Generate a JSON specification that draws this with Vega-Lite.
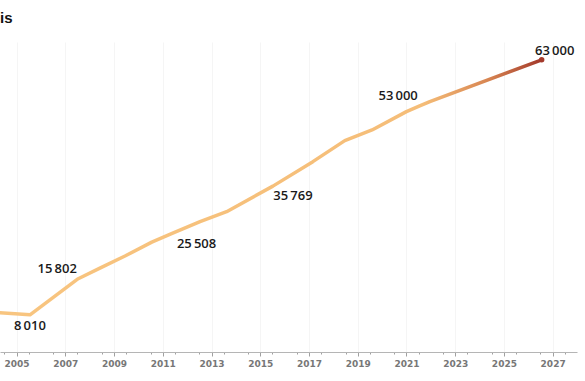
{
  "$schema": "https://vega.github.io/schema/vega-lite/v6.json",
  "width": 577,
  "height": 310,
  "autosize": {"type": "none"},
  "padding": {"left": 0, "top": 42, "right": 8, "bottom": 29},
  "title": {"text": "is", "anchor": "start", "frame": "group", "font": "Liberation Sans", "fontSize": 15, "fontWeight": "bold", "color": "#111111", "baseline": "alphabetic", "offset": 4},
  "config": {
    "view": {"stroke": null},
    "locale": {"number": {"decimal": ".", "thousands": "\u2009", "grouping": [3], "currency": ["", ""]}}
  },
  "data": {"values": [
    {"year": 2004.3, "value": 8480},
    {"year": 2005.55, "value": 8010},
    {"year": 2007.53, "value": 15802},
    {"year": 2008.42, "value": 18100},
    {"year": 2009.45, "value": 20700},
    {"year": 2010.55, "value": 23700},
    {"year": 2011.36, "value": 25508},
    {"year": 2012.53, "value": 28100},
    {"year": 2013.62, "value": 30260},
    {"year": 2015.52, "value": 35769},
    {"year": 2017.16, "value": 41050},
    {"year": 2018.47, "value": 45580},
    {"year": 2019.59, "value": 47890},
    {"year": 2021.0, "value": 51830},
    {"year": 2021.52, "value": 53000},
    {"year": 2021.96, "value": 53990},
    {"year": 2026.55, "value": 63000}
  ]},
  "encoding": {
    "x": {"field": "year", "type": "quantitative",
      "scale": {"domain": [2004.32, 2028], "nice": false, "zero": false},
      "axis": {
        "title": null,
        "values": [2004.5, 2005, 2005.5, 2006.5, 2007, 2007.5, 2008.5, 2009, 2009.5, 2010.5, 2011, 2011.5, 2012.5, 2013, 2013.5, 2014.5, 2015, 2015.5, 2016.5, 2017, 2017.5, 2018.5, 2019, 2019.5, 2020.5, 2021, 2021.5, 2022.5, 2023, 2023.5, 2024.5, 2025, 2025.5, 2026.5, 2027, 2027.5],
        "labelExpr": "datum.value % 1 == 0 ? format(datum.value, 'd') : ''",
        "grid": true,
        "gridColor": "#f5f5f5",
        "gridOpacity": {"condition": {"test": "datum.value % 1 == 0", "value": 1}, "value": 0},
        "domainColor": "#b5b5b5",
        "domainWidth": 1,
        "tickColor": "#a0a0a0",
        "tickSize": {"condition": {"test": "datum.value % 1 == 0", "value": 4}, "value": 2},
        "labelColor": "#777777",
        "labelFont": "DejaVu Sans",
        "labelFontSize": 9,
        "labelFontWeight": "bold",
        "labelPadding": 3,
        "labelOverlap": false,
        "labelFlush": false
      }
    },
    "y": {"field": "value", "type": "quantitative",
      "scale": {"domain": [0, 66850], "nice": false},
      "axis": null
    }
  },
  "layer": [
    {
      "mark": {"type": "line", "clip": true, "strokeWidth": 3.5, "strokeCap": "round", "strokeJoin": "round",
        "color": {"gradient": "linear", "x1": 0, "y1": 0, "x2": 1, "y2": 0,
          "stops": [
            {"offset": 0, "color": "#f8c580"},
            {"offset": 0.78, "color": "#f5bd78"},
            {"offset": 0.9, "color": "#d88652"},
            {"offset": 1, "color": "#a3392b"}
          ]}
      }
    },
    {
      "transform": [{"filter": "datum.value == 63000"}],
      "mark": {"type": "circle", "size": 30, "color": "#a3392b", "opacity": 1}
    },
    {
      "transform": [{"filter": {"field": "value", "oneOf": [8010]}}],
      "mark": {"type": "text", "font": "Open Sans", "fontSize": 13, "fontWeight": 600, "color": "#1a1a1a", "dy": 11},
      "encoding": {"text": {"field": "value", "type": "quantitative", "format": ",d"}}
    },
    {
      "transform": [{"filter": {"field": "value", "oneOf": [15802, 53000]}}],
      "mark": {"type": "text", "font": "Open Sans", "fontSize": 13, "fontWeight": 600, "color": "#1a1a1a", "dx": -21, "dy": -10},
      "encoding": {"text": {"field": "value", "type": "quantitative", "format": ",d"}}
    },
    {
      "transform": [{"filter": {"field": "value", "oneOf": [25508]}}],
      "mark": {"type": "text", "font": "Open Sans", "fontSize": 13, "fontWeight": 600, "color": "#1a1a1a", "dx": 25, "dy": 10},
      "encoding": {"text": {"field": "value", "type": "quantitative", "format": ",d"}}
    },
    {
      "transform": [{"filter": {"field": "value", "oneOf": [35769]}}],
      "mark": {"type": "text", "font": "Open Sans", "fontSize": 13, "fontWeight": 600, "color": "#1a1a1a", "dx": 20, "dy": 10},
      "encoding": {"text": {"field": "value", "type": "quantitative", "format": ",d"}}
    },
    {
      "transform": [{"filter": {"field": "value", "oneOf": [63000]}}],
      "mark": {"type": "text", "font": "Open Sans", "fontSize": 13, "fontWeight": 600, "color": "#1a1a1a", "dx": 13, "dy": -9},
      "encoding": {"text": {"field": "value", "type": "quantitative", "format": ",d"}}
    }
  ]
}
